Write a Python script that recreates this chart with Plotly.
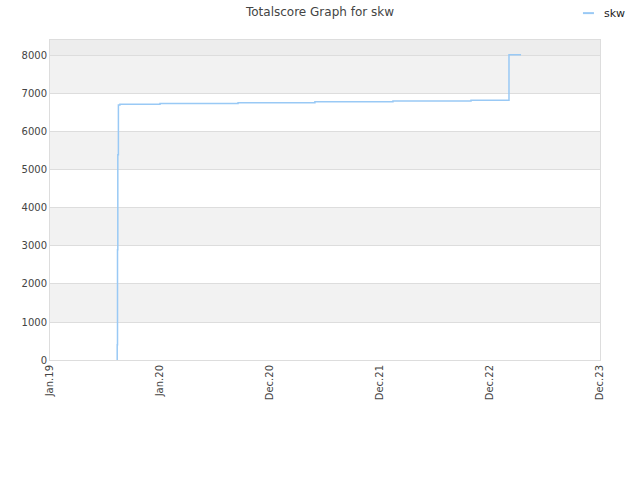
import plotly.graph_objects as go

# Data
dates = ["2019-08-12", "2019-08-12", "2019-08-13", "2019-08-13", "2019-08-13", "2019-08-14",
         "2019-08-14", "2019-08-16", "2019-08-21", "2020-01-01", "2020-09-16", "2021-05-29",
         "2022-02-12", "2022-10-29", "2023-03-04", "2023-04-13"]
scores = [0, 400, 900, 1800, 2900, 4400, 5400, 6710, 6729, 6750, 6771, 6792,
          6813, 6834, 8030, 8030]

tick_vals = ["2019-01-01", "2020-01-01", "2020-12-31", "2021-12-31", "2022-12-31", "2023-12-31"]
tick_text = ["Jan.19", "Jan.20", "Dec.20", "Dec.21", "Dec.22", "Dec.23"]
y_ticks = [0, 1000, 2000, 3000, 4000, 5000, 6000, 7000, 8000]
y_max = 8420
series_name = "skw"
line_color = "#99c9f5"

fig = go.Figure()
fig.add_trace(go.Scatter(x=dates, y=scores, mode="lines", name=series_name, showlegend=False,
                         line=dict(color=line_color, width=1.5, shape="hv")))

shapes = []
bands = [(1000, 2000), (3000, 4000), (5000, 6000), (7000, 8000)]
for y0, y1 in bands:
    shapes.append(dict(type="rect", xref="paper", yref="y", x0=0, x1=1, y0=y0, y1=y1,
                       fillcolor="#f2f2f2", line=dict(width=0), layer="below"))
shapes.append(dict(type="rect", xref="paper", yref="y", x0=0, x1=1, y0=8000, y1=y_max,
                   fillcolor="#ededed", line=dict(width=0), layer="below"))
# legend sample line
shapes.append(dict(type="line", xref="paper", yref="paper", x0=0.969, x1=0.989, y0=1.084, y1=1.084,
                   line=dict(color=line_color, width=2)))

fig.update_layout(
    width=640, height=480,
    margin=dict(l=50, r=40, t=40, b=120, autoexpand=False),
    paper_bgcolor="white", plot_bgcolor="white",
    title=dict(text="Totalscore Graph for skw", x=0.5, xanchor="center", y=0.975, yanchor="middle",
               font=dict(family="DejaVu Sans", size=12, color="#444")),
    font=dict(family="DejaVu Sans", size=10, color="#444"),
    showlegend=False,
    shapes=shapes,
    annotations=[dict(text=series_name, xref="paper", yref="paper", x=1.004, y=1.084,
                      xanchor="left", yanchor="middle", showarrow=False,
                      font=dict(family="DejaVu Sans", size=11, color="#222"))],
    xaxis=dict(type="date", range=["2019-01-01", "2023-12-31"], tickvals=tick_vals, ticktext=tick_text,
               tickangle=-90, showgrid=False, showline=True, linecolor="#dddddd", mirror=True,
               zeroline=False, ticks="", tickfont=dict(size=10, color="#444")),
    yaxis=dict(range=[0, y_max], tickvals=y_ticks, showgrid=True, gridcolor="#dddddd",
               showline=True, linecolor="#dddddd", mirror=True, zeroline=False, ticks="",
               tickfont=dict(size=10, color="#444")),
)

fig.write_html("out.html", config={"displayModeBar": False},
               post_script="document.body.style.margin='0';")
